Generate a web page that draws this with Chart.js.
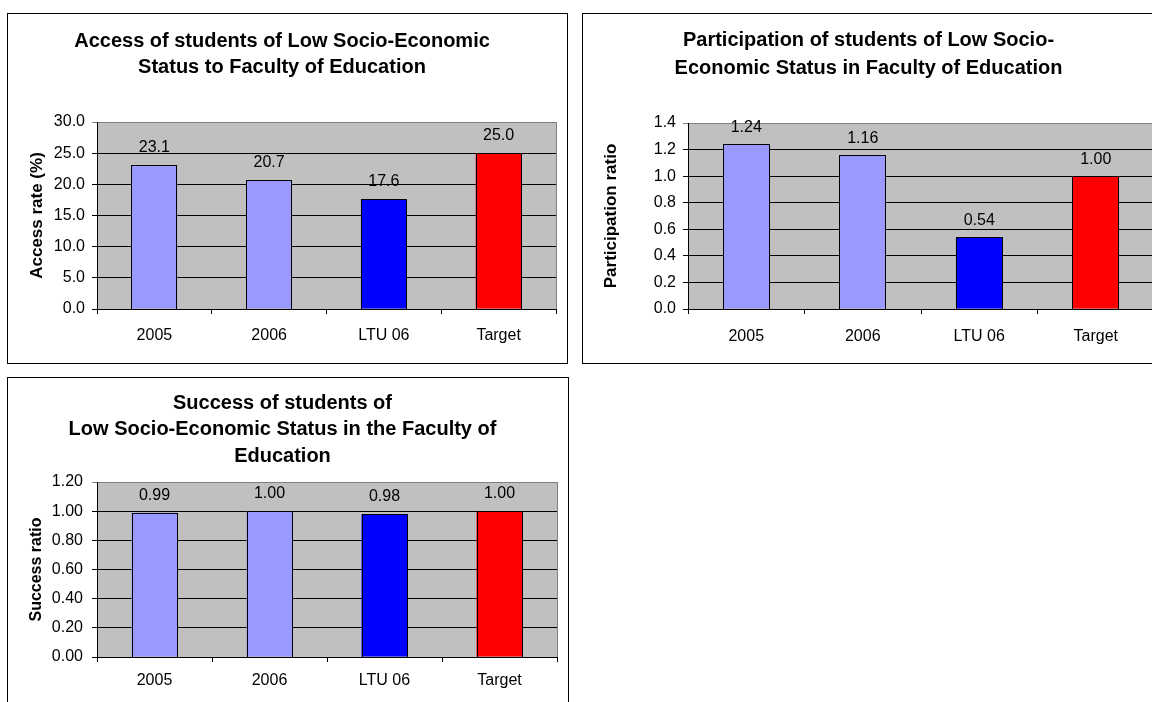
<!DOCTYPE html>
<html>
<head>
<meta charset="utf-8">
<script src="https://cdn.jsdelivr.net/npm/chart.js@4.4.0/dist/chart.umd.min.js"></script>
<style>
  html, body { margin: 0; padding: 0; background: #fff; overflow: hidden; }
  .panel { position: absolute; box-sizing: border-box; border: 1px solid #000; background: #fff; }
  .panel canvas { display: block; }
</style>
</head>
<body>
<div class="panel" style="left:7px; top:13px; width:561px; height:351px;"><canvas id="accessChart" width="559" height="349"></canvas></div>
<div class="panel" style="left:582px; top:13px; width:584px; height:351px;"><canvas id="participationChart" width="582" height="349"></canvas></div>
<div class="panel" style="left:7px; top:377px; width:562px; height:360px;"><canvas id="successChart" width="560" height="358"></canvas></div>

<script>
const categories = ['2005', '2006', 'LTU 06', 'Target'];
const barColors = ['#9999FF', '#9999FF', '#0000FF', '#FF0000'];

const accessRate = [23.1, 20.7, 17.6, 25.0];
const participationRatio = [1.24, 1.16, 0.54, 1.00];
const successRatio = [0.99, 1.00, 0.98, 1.00];

const FONT = "'Liberation Sans', Arial, sans-serif";

// grey plot area with a thin grey frame, painted before grid and bars
const plotBackground = {
    id: 'plotBackground',
    beforeDraw(chart) {
        const {ctx, chartArea: a} = chart;
        ctx.save();
        ctx.fillStyle = '#C0C0C0';
        ctx.fillRect(a.left, a.top, a.right - a.left, a.bottom - a.top);
        ctx.strokeStyle = '#808080';
        ctx.lineWidth = 1;
        ctx.strokeRect(Math.round(a.left) + 0.5, Math.round(a.top) + 0.5,
            Math.round(a.right - a.left), Math.round(a.bottom - a.top));
        ctx.restore();
    }
};

// crisp black outline on each bar, then its value printed above it
const barValues = {
    id: 'barValues',
    afterDatasetsDraw(chart, args, opts) {
        const {ctx} = chart;
        const meta = chart.getDatasetMeta(0);
        const values = chart.data.datasets[0].data;
        ctx.save();
        ctx.strokeStyle = '#000';
        ctx.lineWidth = 1;
        meta.data.forEach(bar => {
            const {x, y, base, width} = bar.getProps(['x', 'y', 'base', 'width'], true);
            const left = Math.round(x - width / 2);
            const right = Math.round(x + width / 2);
            const top = Math.round(y);
            ctx.strokeRect(left + 0.5, top + 0.5, right - left - 1, Math.round(base) - top);
        });
        ctx.font = '16px ' + FONT;
        ctx.fillStyle = '#000';
        ctx.textAlign = 'center';
        ctx.textBaseline = 'alphabetic';
        meta.data.forEach((bar, i) => {
            ctx.fillText(values[i].toFixed(opts.decimals), bar.x, bar.y - opts.gap);
        });
        ctx.restore();
    }
};

function makeChart(id, cfg) {
    const canvas = document.getElementById(id);
    return new Chart(canvas, {
        type: 'bar',
        data: {
            labels: categories,
            datasets: [{
                data: cfg.values,
                backgroundColor: barColors,
                borderWidth: 0,
                barPercentage: 0.4,
                categoryPercentage: 1.0
            }]
        },
        plugins: [plotBackground, barValues],
        options: {
            responsive: false,
            animation: false,
            events: [],
            layout: {padding: {left: 0, right: canvas.width - cfg.plotRight, top: 0, bottom: 0}},
            plugins: {
                legend: {display: false},
                tooltip: {enabled: false},
                title: {
                    display: true,
                    text: cfg.title,
                    color: '#000',
                    font: {family: FONT, size: 20, weight: 'bold', lineHeight: cfg.titleLine},
                    padding: {top: cfg.titleTop, bottom: cfg.titleBottom}
                },
                barValues: {decimals: cfg.decimals, gap: cfg.valueGap}
            },
            scales: {
                x: {
                    grid: {display: true, drawOnChartArea: false, drawTicks: true, tickLength: 5, color: '#000'},
                    border: {display: true, color: '#000', width: 1},
                    ticks: {color: '#000', padding: cfg.xPad, font: {family: FONT, size: 16}},
                    afterFit(scale) { scale.height = canvas.height - cfg.plotBottom; }
                },
                y: {
                    min: 0,
                    max: cfg.max,
                    grid: {
                        color: ctx => (ctx.tick && Math.abs(ctx.tick.value - cfg.max) < 1e-9) ? '#808080' : '#000',
                        tickLength: 5,
                        drawTicks: true
                    },
                    border: {display: true, color: '#000', width: 1},
                    ticks: {
                        stepSize: cfg.step,
                        color: '#000',
                        padding: cfg.yPad,
                        font: {family: FONT, size: 16},
                        callback: v => Number(v).toFixed(cfg.tickDecimals)
                    },
                    title: {
                        display: true,
                        text: cfg.yTitle,
                        color: '#000',
                        font: {family: FONT, size: cfg.yTitleSize, weight: 'bold'},
                        padding: {top: cfg.yTitlePad, bottom: 0}
                    },
                    afterFit(scale) { scale.width = cfg.plotLeft; }
                }
            }
        }
    });
}

makeChart('accessChart', {
    values: accessRate,
    title: ['Access of students of Low Socio-Economic', 'Status to Faculty of Education'],
    titleLine: 1.33, titleTop: 14, titleBottom: 40.8,
    yTitle: 'Access rate (%)', yTitleSize: 17, yTitlePad: 19,
    max: 30, step: 5, decimals: 1, tickDecimals: 1,
    plotLeft: 89, plotRight: 548, plotBottom: 295,
    xPad: 12, yPad: 7, valueGap: 13
});

makeChart('participationChart', {
    values: participationRatio,
    title: ['Participation of students of Low Socio-', 'Economic Status in Faculty of Education'],
    titleLine: 1.4, titleTop: 12, titleBottom: 41,
    yTitle: 'Participation ratio', yTitleSize: 17, yTitlePad: 18,
    max: 1.4, step: 0.2, decimals: 2, tickDecimals: 1,
    plotLeft: 105, plotRight: 571, plotBottom: 295,
    xPad: 13, yPad: 7, valueGap: 12
});

makeChart('successChart', {
    values: successRatio,
    title: ['Success of students of', 'Low Socio-Economic Status in the Faculty of', 'Education'],
    titleLine: 1.33, titleTop: 12, titleBottom: 12.2,
    yTitle: 'Success ratio', yTitleSize: 16, yTitlePad: 19,
    max: 1.2, step: 0.2, decimals: 2, tickDecimals: 2,
    plotLeft: 89, plotRight: 549, plotBottom: 279,
    xPad: 9, yPad: 9, valueGap: 13
});
</script>
</body>
</html>
